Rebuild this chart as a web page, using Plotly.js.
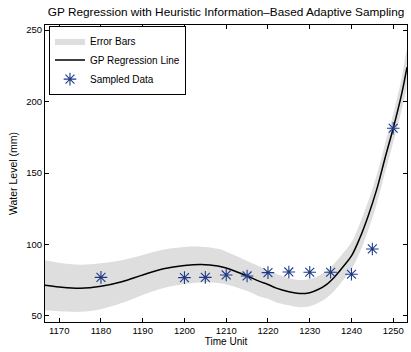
<!DOCTYPE html>
<html>
<head>
<meta charset="utf-8">
<script src="https://cdn.plot.ly/plotly-3.0.1.min.js"></script>
<style>
  html, body { margin: 0; padding: 0; background: #fff; }
  #chart { width: 411px; height: 352px; }
</style>
</head>
<body>
<div id="chart"></div>
<script>
// Sampled observations (time unit, water level in mm)
var sampleTime  = [1180, 1200, 1205, 1210, 1215, 1220, 1225, 1230, 1235, 1240, 1245, 1250];
var sampleLevel = [77, 76.8, 77, 78.7, 78, 80.3, 80.8, 80.6, 80.6, 79.2, 96.9, 181.3];

// GP posterior mean on an evaluation grid
var gridTime = [1166.6, 1170, 1175, 1180, 1185, 1190, 1195, 1200, 1204, 1208, 1210, 1212,
                1215, 1218, 1220, 1222, 1225, 1227.5, 1230, 1232, 1234, 1236, 1238, 1240,
                1242, 1244, 1246, 1248, 1250, 1252, 1253.3];
var gridMean = [71.5, 70.3, 69.4, 70.8, 74, 78.7, 83, 85.3, 86, 85, 83.5, 81.5,
                78, 74.2, 72, 69.5, 67, 65.7, 66.3, 68.5, 72, 77.5, 84.5, 92,
                104.5, 120, 138, 160, 181.3, 205, 224];
// GP posterior standard deviation (half-width of the shaded band)
var gridStd  = [17.5, 17, 16.5, 16, 15, 14, 13.5, 13, 12.5, 12, 11.5, 11,
                10.5, 10.5, 10, 10, 9.5, 9.5, 9.5, 9.5, 9.5, 9.5, 9.5, 9.5,
                10, 10, 10, 10, 10, 11, 12];

var xTicks = [1170, 1180, 1190, 1200, 1210, 1220, 1230, 1240, 1250];
var yTicks = [50, 100, 150, 200, 250];

// Band polygon: upper edge forward, lower edge backward
var bandX = [], bandY = [];
for (var i = 0; i < gridTime.length; i++) {
  bandX.push(gridTime[i]);
  bandY.push(gridMean[i] + gridStd[i]);
}
for (var j = gridTime.length - 1; j >= 0; j--) {
  bandX.push(gridTime[j]);
  bandY.push(gridMean[j] - gridStd[j]);
}

var FONT = 'Liberation Sans, Arial, Helvetica, sans-serif';

var traces = [
  {
    x: bandX, y: bandY, type: 'scatter', mode: 'lines',
    fill: 'toself', fillcolor: '#dedede',
    line: { width: 0, color: '#dedede', shape: 'spline' },
    name: 'Error Bars', hoverinfo: 'skip'
  },
  {
    x: gridTime, y: gridMean, type: 'scatter', mode: 'lines',
    line: { color: '#000000', width: 1.5, shape: 'spline' },
    name: 'GP Regression Line'
  },
  {
    x: sampleTime, y: sampleLevel, type: 'scatter', mode: 'markers',
    marker: { symbol: 'asterisk-open', size: 10.5, color: '#1f3b87',
              line: { color: '#1f3b87', width: 1.1 } },
    name: 'Sampled Data'
  }
];

var axisCommon = {
  showline: true, linecolor: '#000', linewidth: 1, mirror: 'ticks',
  ticks: 'inside', ticklen: 4, tickcolor: '#000', tickwidth: 1,
  showgrid: false, zeroline: false,
  tickfont: { family: FONT, size: 9.5, color: '#000' }
};

var layout = {
  width: 411, height: 352,
  margin: { l: 45, r: 4, t: 25, b: 30, pad: 0 },
  paper_bgcolor: '#fff', plot_bgcolor: '#fff',
  font: { family: FONT, color: '#000' },
  title: {
    text: 'GP Regression with Heuristic Information\u2013Based Adaptive Sampling',
    font: { family: FONT, size: 11.8, color: '#000' },
    x: 0.55, xanchor: 'center', y: 0.965, yanchor: 'middle'
  },
  xaxis: Object.assign({}, axisCommon, {
    range: [1166.6, 1253.3], tickvals: xTicks,
    title: { text: 'Time Unit', font: { family: FONT, size: 10, color: '#000' }, standoff: 2 }
  }),
  yaxis: Object.assign({}, axisCommon, {
    range: [45.8, 253.5], tickvals: yTicks,
    title: { text: 'Water Level (mm)', font: { family: FONT, size: 10.5, color: '#000' }, standoff: 6 }
  }),
  showlegend: true,
  legend: {
    x: 0.011, y: 0.998, xanchor: 'left', yanchor: 'top',
    bgcolor: '#fff', bordercolor: '#000', borderwidth: 1,
    font: { family: FONT, size: 10, color: '#000' },
    itemwidth: 30, tracegroupgap: 0
  }
};

Plotly.newPlot('chart', traces, layout, { displayModeBar: false, staticPlot: true });
</script>
</body>
</html>
